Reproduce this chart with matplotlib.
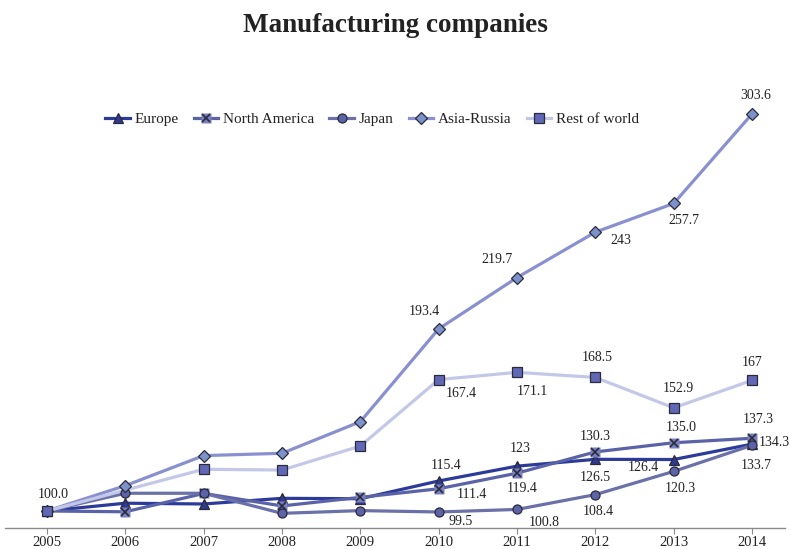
import numpy as np
import matplotlib
matplotlib.use("Agg")
import matplotlib.pyplot as plt
from matplotlib.lines import Line2D
from matplotlib.legend_handler import HandlerTuple

plt.rcParams["font.family"] = ["Liberation Serif", "DejaVu Serif"]

# ---- data (index, 2005 = 100) ----
years = [2005, 2006, 2007, 2008, 2009, 2010, 2011, 2012, 2013, 2014]
series_names = ["Europe", "North America", "Japan", "Asia-Russia", "Rest of world"]

europe = [100.0, 104.0, 103.6, 106.5, 106.3, 115.4, 123.0, 126.5, 126.4, 134.3]
north_america = [100.0, 99.6, 109.0, 102.6, 107.0, 111.4, 119.4, 130.3, 135.0, 137.3]
japan = [100.0, 109.1, 109.1, 98.8, 100.2, 99.5, 100.8, 108.4, 120.3, 133.7]
asia_russia = [100.0, 113.0, 128.4, 129.6, 145.8, 193.4, 219.7, 243.0, 257.7, 303.6]
rest_of_world = [100.0, np.nan, 121.4, 121.0, 133.3, 167.4, 171.1, 168.5, 152.9, 167.0]

# value labels shown on the chart (None = no label)
europe_labels = [None] * 5 + ["115.4", "123", "126.5", "126.4", "134.3"]
north_america_labels = [None] * 5 + ["111.4", "119.4", "130.3", "135.0", "137.3"]
japan_labels = [None] * 5 + ["99.5", "100.8", "108.4", "120.3", "133.7"]
asia_russia_labels = [None] * 5 + ["193.4", "219.7", "243", "257.7", "303.6"]
rest_of_world_labels = ["100.0"] + [None] * 4 + ["167.4", "171.1", "168.5", "152.9", "167"]

# label offsets in pixels (dx, dy with y up) and horizontal alignment
europe_off = [None] * 5 + [(7, 15), (3, 18), (0, -18), (-30, -8), (7, 2, "left")]
north_america_off = [None] * 5 + [(33, -6), (5, -15), (0, 15), (8, 15), (6, 19)]
japan_off = [None] * 5 + [(22, -10), (27, -13), (3, -17), (7, -17), (4, -20)]
asia_russia_off = [None] * 5 + [(-14, 17), (-20, 18), (25, -8), (10, -17), (4, 18)]
rest_of_world_off = [(6, 17)] + [None] * 4 + [(23, -14), (15, -19), (2, 20), (5, 19), (0, 18)]

# ---- styles ----
line_colors = ["#2c3b99", "#5a63a8", "#6a70a8", "#8990cf", "#c4c8e8"]
marker_fill = ["#2e3a8e", "#7880c0", "#5c63a8", "#7b92cb", "#6068b6"]
markers = ["^", "s", "o", "D", "s"]
edge = "#2a2a3a"

fig = plt.figure(figsize=(7.9, 5.49), dpi=100)
ax = fig.add_axes([5 / 790, 21 / 549, 780 / 790, 468 / 549])

px_per_unit = 1.95
y_lo = 100 - 17 / px_per_unit
y_hi = y_lo + 468 / px_per_unit
x_step = 705 / 9
ax.set_xlim(2005 - 42 / x_step, 2005 + 738 / x_step)
ax.set_ylim(y_lo, y_hi)

all_series = [europe, north_america, japan, asia_russia, rest_of_world]
all_labels = [europe_labels, north_america_labels, japan_labels,
              asia_russia_labels, rest_of_world_labels]
all_offsets = [europe_off, north_america_off, japan_off,
               asia_russia_off, rest_of_world_off]

handles = []
for i, (name, vals) in enumerate(zip(series_names, all_series)):
    x = np.array(years, dtype=float)
    y = np.array(vals, dtype=float)
    ok = ~np.isnan(y)
    ax.plot(x[ok], y[ok], color=line_colors[i], lw=2.3, zorder=2 + i * 0.1,
            solid_capstyle="round")
    if name == "North America":
        # boxed cross marker: light square with a dark x on top
        ax.plot(x[ok], y[ok], ls="none", marker="s", ms=6.8, mfc=marker_fill[i],
                mec="none", zorder=3 + i * 0.1)
        ax.plot(x[ok], y[ok], ls="none", marker="x", ms=6.0, mec=edge, mew=1.2,
                zorder=3.05 + i * 0.1)
        h = (Line2D([], [], color=line_colors[i], lw=2.3, marker="s", ms=6.8,
                    mfc=marker_fill[i], mec="none"),
             Line2D([], [], ls="none", marker="x", ms=6.0, mec=edge, mew=1.2))
    else:
        ms = 7.5 if markers[i] == "^" else (6.3 if markers[i] == "D" else 6.5)
        ax.plot(x[ok], y[ok], ls="none", marker=markers[i], ms=ms,
                mfc=marker_fill[i], mec=edge, mew=0.9, zorder=3 + i * 0.1)
        h = Line2D([], [], color=line_colors[i], lw=2.3, marker=markers[i], ms=ms,
                   mfc=marker_fill[i], mec=edge, mew=0.9)
    handles.append(h)

    for yr, v, lab, off in zip(years, vals, all_labels[i], all_offsets[i]):
        if lab is None:
            continue
        ha = off[2] if len(off) > 2 else "center"
        ax.annotate(lab, (yr, v), xytext=(off[0], off[1]), textcoords="offset pixels",
                    ha=ha, va="center", fontsize=10, color="#222222", zorder=6)

# axes styling
for s in ["left", "right", "top"]:
    ax.spines[s].set_visible(False)
ax.spines["bottom"].set_color("#8a8a8a")
ax.spines["bottom"].set_linewidth(1.0)
ax.set_yticks([])
ax.set_xticks(years)
ax.set_xticklabels([str(y) for y in years], fontsize=10.5, color="#222222")
ax.tick_params(axis="x", length=4, color="#8a8a8a", pad=2)

leg = fig.legend(handles, series_names, loc="center", bbox_to_anchor=(372 / 790, 1 - 119 / 549),
                 ncol=5, frameon=False, fontsize=11, handlelength=1.6, handletextpad=0.3,
                 columnspacing=1.0, handler_map={tuple: HandlerTuple(ndivide=1, pad=0)})
for t in leg.get_texts():
    t.set_color("#222222")

fig.text(0.5, 1 - 26 / 549, "Manufacturing companies", ha="center", va="center",
         fontsize=19.5, fontweight="bold", color="#222222")

fig.savefig("out.png", dpi=100)
